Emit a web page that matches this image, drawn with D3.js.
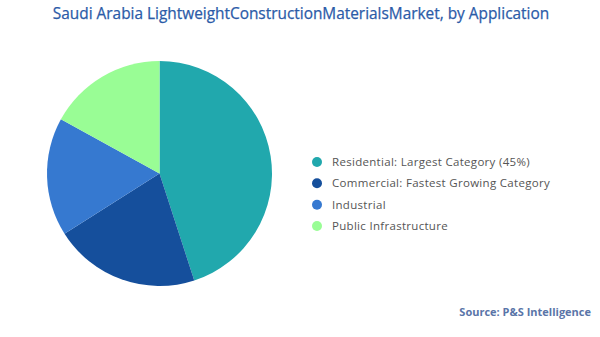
<!DOCTYPE html>
<html>
<head>
<meta charset="utf-8">
<script src="https://cdn.jsdelivr.net/npm/d3@7"></script>
<style>
  body { margin: 0; background: #fff; }
  svg text { font-family: "Open Sans", sans-serif; }
</style>
</head>
<body>
<div id="chart"></div>
<script>
var width = 600, height = 337;

var categories = ['Residential', 'Commercial', 'Industrial', 'Public Infrastructure'];
var shares = [45, 21, 17, 17];
var legendNotes = ['Largest Category (45%)', 'Fastest Growing Category', '', ''];
var colours = ['#21a8ad', '#154f9c', '#3679d0', '#99fd95'];

var data = categories.map((c, i) => ({ name: c, value: shares[i], note: legendNotes[i], colour: colours[i] }));

var svg = d3.select('#chart')
    .append('svg')
    .attr('width', width)
    .attr('height', height);

svg.append('text')
    .attr('x', 301)
    .attr('y', 19)
    .attr('text-anchor', 'middle')
    .style('font-size', '15.4px')
    .style('stroke', '#2b5ba8')
    .style('stroke-width', '0.25px')
    .style('fill', '#2b5ba8')
    .text('Saudi Arabia LightweightConstructionMaterialsMarket, by Application');

// pie, clockwise from 12 o'clock in data order
var pie = d3.pie().sort(null).value(d => d.value);
var arc = d3.arc().innerRadius(0).outerRadius(112.5);

svg.append('g')
    .attr('transform', 'translate(159.5, 173.5)')
    .selectAll('path')
    .data(pie(data))
    .enter()
    .append('path')
    .attr('d', arc)
    .style('fill', d => d.data.colour);

var legendY = d3.scalePoint()
    .domain(categories)
    .range([162, 226]);

var legend = svg.append('g')
    .selectAll('g')
    .data(data)
    .enter()
    .append('g')
    .attr('transform', d => `translate(317, ${legendY(d.name)})`);

legend.append('circle')
    .attr('r', 5)
    .style('fill', d => d.colour);

var labels = legend.append('text')
    .attr('x', 15)
    .attr('y', 4)
    .style('font-size', '11.5px')
    .style('letter-spacing', '0.3px')
    .style('fill', '#555');

labels.append('tspan').text(d => d.note ? d.name + ':  ' : d.name);
labels.append('tspan').text(d => d.note);

svg.append('text')
    .attr('x', 591)
    .attr('y', 316)
    .attr('text-anchor', 'end')
    .style('font-weight', 'bold')
    .style('font-size', '11px')
    .style('fill', '#5a75a8')
    .text('Source: P&S Intelligence');
</script>
</body>
</html>
